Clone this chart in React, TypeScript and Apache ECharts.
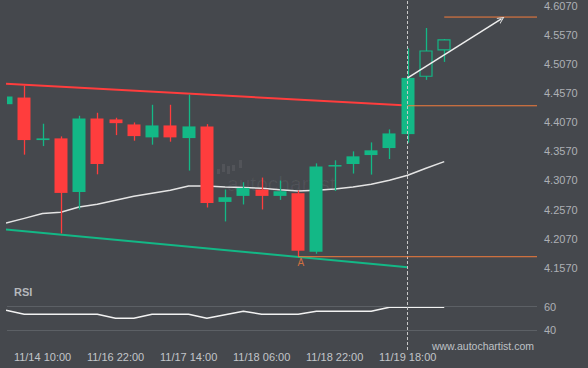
import React, { useEffect, useRef } from "react";
import * as echarts from "echarts";

// ---- data ----
const opens = [4.4378, 4.4492, 4.3763, 4.3792, 4.2874, 4.4133, 4.4117, 4.4031, 4.3809, 4.4014, 4.3797, 4.3997, 4.2703, 4.2806, 4.2915, 4.2806, 4.2852, 4.1848, 4.3318, 4.3353, 4.3506, 4.3626, 4.3865, 4.4857, 4.5308];
const closes = [4.4510, 4.3763, 4.3792, 4.2857, 4.4133, 4.3353, 4.4053, 4.3831, 4.4014, 4.3809, 4.3997, 4.2686, 4.2783, 4.2942, 4.2806, 4.2886, 4.1866, 4.3312, 4.3335, 4.3484, 4.3587, 4.3877, 4.4829, 4.5290, 4.5479];
const lows = [4.4378, 4.3513, 4.3660, 4.2163, 4.2573, 4.3176, 4.3848, 4.3752, 4.3684, 4.3735, 4.3240, 4.2607, 4.2368, 4.2659, 4.2573, 4.2737, 4.1763, 4.1814, 4.2891, 4.3189, 4.3171, 4.3438, 4.3718, 4.4795, 4.5103];
const highs = [4.4510, 4.4698, 4.4043, 4.3826, 4.4180, 4.4231, 4.4146, 4.4065, 4.4368, 4.4368, 4.4544, 4.4036, 4.2915, 4.3040, 4.3120, 4.3069, 4.2898, 4.3364, 4.3416, 4.3570, 4.3723, 4.3946, 4.5335, 4.5684, 4.5496];
const hollow = [0, 0, 0, 0, 0, 0, 0, 0, 0, 0, 0, 0, 0, 0, 0, 0, 0, 0, 0, 0, 0, 0, 0, 1, 1];
const maValues = [4.2339, 4.2421, 4.2504, 4.2525, 4.2615, 4.2664, 4.2732, 4.2800, 4.2852, 4.2903, 4.2977, 4.2975, 4.2959, 4.2949, 4.2937, 4.2911, 4.2891, 4.2903, 4.2925, 4.2959, 4.3006, 4.3074, 4.3159, 4.3279, 4.3393];
const rsiValues = [56.9, 53.6, 53.6, 53.6, 53.6, 53.6, 50.2, 50.2, 53.6, 53.6, 53.6, 50.2, 53.2, 56.1, 53.6, 53.6, 53.6, 56.1, 56.1, 56.1, 56.1, 59.5, 59.5, 59.5, 59.5];

const priceTicks = [4.157, 4.207, 4.257, 4.307, 4.357, 4.407, 4.457, 4.507, 4.557, 4.607];
const rsiTicks = [40, 60];
const timeTickIndex = [2, 6, 10, 14, 18, 22];
const timeTickLabels = ["11/14 10:00", "11/16 22:00", "11/17 14:00", "11/18 06:00", "11/18 22:00", "11/19 18:00"];

const resistanceLine = [[0, 4.4728], [22, 4.4356]];
const supportLine = [[0, 4.2232], [22, 4.1582]];
const forecastArrow = [[22, 4.4829], [27.13, 4.5839]];
const targetLevel = { from: 24, value: 4.5872 };
const breakoutLevel = { from: 22, value: 4.4351 };
const patternLow = { from: 16, value: 4.1763 };
const signalIndex = 22;
const patternPoint = [16.15, 4.1763];

// ---- styling ----
const BG = "#45484d";
const GREEN = "#13b886";
const RED = "#ff3d3d";
const ORANGE = "#f47c3c";
const X_MIN = 0.055;
const X_MAX = 29.08;

export default function App() {
  const ref = useRef<HTMLDivElement>(null);

  useEffect(() => {
    if (!ref.current) return;
    const chart = echarts.init(ref.current, null, { renderer: "svg" });

    const candleData = opens.map((o, i) => [i, o, closes[i], lows[i], highs[i], hollow[i]]);

    const levelLine = (lv: { from: number; value: number }) => [
      [lv.from, lv.value],
      [X_MAX, lv.value],
    ];

    const option: any = {
      animation: false,
      backgroundColor: BG,
      textStyle: { fontFamily: "Liberation Sans, Arial, sans-serif" },
      grid: [
        { left: 7, right: 51, top: 0, height: 274 },
        { left: 7, right: 51, top: 274, height: 76 },
      ],
      xAxis: [
        {
          type: "value", gridIndex: 0, min: X_MIN, max: X_MAX,
          axisLine: { show: false }, axisTick: { show: false }, axisLabel: { show: false }, splitLine: { show: false },
        },
        {
          type: "value", gridIndex: 1, min: X_MIN, max: X_MAX,
          axisLine: { show: false }, axisTick: { show: false }, splitLine: { show: false },
          axisLabel: {
            customValues: timeTickIndex,
            formatter: (v: number) => {
              const k = timeTickIndex.indexOf(Math.round(v));
              return k >= 0 ? timeTickLabels[k] : "";
            },
            color: "#c2c5c9", fontSize: 11, margin: 1,
          },
        },
      ],
      yAxis: [
        {
          type: "value", gridIndex: 0, position: "right", min: 4.1467, max: 4.615,
          axisLine: { show: false }, axisTick: { show: false }, splitLine: { show: false },
          axisLabel: {
            customValues: priceTicks,
            formatter: (v: number) => v.toFixed(4),
            color: "#adb0b5", fontSize: 11, margin: 7,
          },
        },
        {
          type: "value", gridIndex: 1, position: "right", min: 23.3, max: 87.7,
          axisLine: { show: false }, axisTick: { show: false }, splitLine: { show: false },
          axisLabel: {
            customValues: rsiTicks,
            formatter: (v: number) => String(v),
            color: "#adb0b5", fontSize: 11, margin: 7,
          },
        },
      ],
      series: [
        {
          type: "line", xAxisIndex: 0, yAxisIndex: 0, data: resistanceLine, showSymbol: false, symbol: "none",
          lineStyle: { color: RED, width: 2 }, silent: true, z: 3,
        },
        {
          type: "line", xAxisIndex: 0, yAxisIndex: 0, data: supportLine, showSymbol: false, symbol: "none",
          lineStyle: { color: GREEN, width: 2 }, silent: true, z: 3,
        },
        {
          type: "line", xAxisIndex: 0, yAxisIndex: 0, data: maValues.map((v, i) => [i, v]), symbol: "none",
          lineStyle: { color: "#e4e4e4", width: 1.5 }, silent: true, z: 3,
          markLine: {
            silent: true, symbol: "none", label: { show: false },
            lineStyle: { color: "#c8c8c8", type: [3, 2], width: 1 },
            data: [{ xAxis: signalIndex }],
          },
        },
        {
          type: "custom", xAxisIndex: 0, yAxisIndex: 0, data: candleData, z: 4,
          encode: { x: 0, y: [1, 2, 3, 4] },
          renderItem: (params: any, api: any) => {
            const x = api.value(0);
            const o = api.value(1), c = api.value(2), l = api.value(3), h = api.value(4);
            const hol = api.value(5);
            const pO = api.coord([x, o]);
            const pC = api.coord([x, c]);
            const pL = api.coord([x, l]);
            const pH = api.coord([x, h]);
            const w = Math.round(api.size([1, 0])[0] * 0.71);
            const color = c >= o ? GREEN : RED;
            const cs = params.coordSys;
            const cx = Math.round(pO[0]);
            const top = Math.min(pO[1], pC[1]);
            const bh = Math.max(1.5, Math.abs(pO[1] - pC[1]));
            const rect = echarts.graphic.clipRectByRect(
              { x: cx - w / 2, y: top, width: w, height: bh },
              { x: cs.x, y: cs.y, width: cs.width, height: cs.height }
            );
            const children: any[] = [];
            if (cx >= cs.x) {
              children.push({
                type: "line",
                shape: { x1: cx + 0.5, y1: pH[1], x2: cx + 0.5, y2: pL[1] },
                style: { stroke: color, lineWidth: 1.3 },
              });
            }
            if (rect) {
              if (hol) {
                children.push({
                  type: "rect",
                  shape: { x: rect.x + 0.5, y: rect.y, width: rect.width - 1, height: rect.height },
                  style: { fill: BG, stroke: color, lineWidth: 1.2 },
                });
              } else {
                children.push({ type: "rect", shape: rect, style: { fill: color } });
              }
            }
            return { type: "group", children };
          },
        },
        {
          type: "line", xAxisIndex: 0, yAxisIndex: 0, data: levelLine(targetLevel), symbol: "none",
          lineStyle: { color: ORANGE, width: 1 }, silent: true, z: 5,
        },
        {
          type: "line", xAxisIndex: 0, yAxisIndex: 0, data: levelLine(breakoutLevel), symbol: "none",
          lineStyle: { color: ORANGE, width: 1 }, silent: true, z: 5,
        },
        {
          type: "line", xAxisIndex: 0, yAxisIndex: 0, data: levelLine(patternLow), symbol: "none",
          lineStyle: { color: ORANGE, width: 1 }, silent: true, z: 5,
        },
        {
          type: "lines", coordinateSystem: "cartesian2d", xAxisIndex: 0, yAxisIndex: 0, z: 6, silent: true,
          symbol: ["none", "path://M6,0 L12,9 L10.4,9 L6,2.6 L1.6,9 L0,9 Z"],
          symbolSize: [10, 7],
          lineStyle: { color: "#eeeeee", width: 1.5, opacity: 1, curveness: 0 },
          itemStyle: { color: "#eeeeee" },
          data: [{ coords: forecastArrow }],
        },
        {
          type: "scatter", xAxisIndex: 0, yAxisIndex: 0, data: [patternPoint], symbolSize: 0.01, silent: true, z: 6,
          label: { show: true, formatter: "A", position: "bottom", distance: 1, color: ORANGE, fontSize: 10 },
        },
        {
          type: "line", xAxisIndex: 1, yAxisIndex: 1, data: rsiValues.map((v, i) => [i, v]), symbol: "none",
          lineStyle: { color: "#f2f2f2", width: 1.5 }, silent: true, z: 4,
          markLine: {
            silent: true, symbol: "none", label: { show: false },
            data: [
              { yAxis: rsiTicks[0], lineStyle: { color: "#5c6065", type: "solid", width: 1 } },
              { yAxis: rsiTicks[1], lineStyle: { color: "#5c6065", type: "solid", width: 1 } },
              { xAxis: signalIndex, lineStyle: { color: "#c8c8c8", type: [3, 2], width: 1 } },
            ],
          },
        },
      ],
      graphic: [
        {
          type: "group", left: 217, top: 160, silent: true, z: 0,
          children: [
            { type: "rect", shape: { x: 0, y: 9, width: 3, height: 5 }, style: { fill: "rgba(255,255,255,0.07)" } },
            { type: "rect", shape: { x: 5, y: 4, width: 3, height: 8 }, style: { fill: "rgba(255,255,255,0.07)" } },
            { type: "rect", shape: { x: 10, y: 6, width: 3, height: 8 }, style: { fill: "rgba(255,255,255,0.07)" } },
            { type: "rect", shape: { x: 15, y: 5, width: 3, height: 6 }, style: { fill: "rgba(255,255,255,0.07)" } },
            { type: "rect", shape: { x: 22, y: 0, width: 3, height: 8 }, style: { fill: "rgba(255,255,255,0.07)" } },
          ],
        },
        {
          type: "text", left: 227, top: 173, silent: true, z: 0,
          style: { text: "autochartist", fill: "rgba(255,255,255,0.06)", fontSize: 21, fontFamily: "Liberation Sans, Arial, sans-serif" },
        },
        {
          type: "text", left: 14, top: 286, silent: true,
          style: { text: "RSI", fill: "#b5b8bc", fontSize: 11, fontWeight: "bold", fontFamily: "Liberation Sans, Arial, sans-serif" },
        },
        {
          type: "text", right: 54, top: 340, silent: true,
          style: { text: "www.autochartist.com", fill: "#bfc2c6", fontSize: 10.5, fontFamily: "Liberation Sans, Arial, sans-serif" },
        },
      ],
    };

    chart.setOption(option);
    return () => chart.dispose();
  }, []);

  return (
    <div
      ref={ref}
      style={{ position: "fixed", left: 0, top: 0, width: 588, height: 368 }}
    />
  );
}
